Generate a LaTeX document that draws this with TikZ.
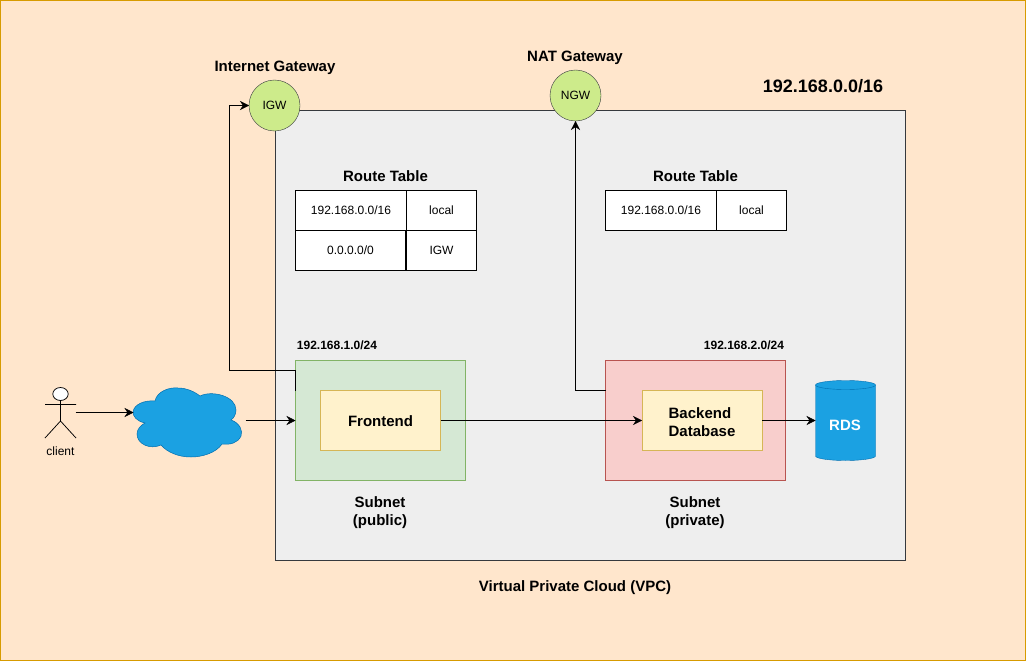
\documentclass[tikz,border=0pt]{standalone}
\usepackage{fontspec}
\setmainfont{Liberation Sans}
\usetikzlibrary{arrows.meta,shapes.geometric}
\definecolor{bgc}{HTML}{FFE6CC}
\definecolor{bgl}{HTML}{D79B00}
\definecolor{vpc}{HTML}{EEEEEE}
\definecolor{vpcl}{HTML}{36393D}
\definecolor{gw}{HTML}{CDEB8B}
\definecolor{pubf}{HTML}{D5E8D4}
\definecolor{publ}{HTML}{82B366}
\definecolor{prif}{HTML}{F8CECC}
\definecolor{pril}{HTML}{B85450}
\definecolor{appf}{HTML}{FFF2CC}
\definecolor{appl}{HTML}{D6B656}
\definecolor{blue}{HTML}{1BA1E2}
\definecolor{bluel}{HTML}{006EAF}
\newcommand{\fs}[1]{\fontsize{#1}{#1}\selectfont}
\tikzset{
  x=1pt,y=-1pt,
  line width=0.75pt,
  box/.style={draw,rectangle,anchor=north west,inner sep=0pt,outer sep=0pt,align=center},
  cell/.style={box,draw=black,fill=white,font=\fs{12}},
  gwnode/.style={draw=vpcl,fill=gw,circle,minimum size=51pt,inner sep=0pt,outer sep=0pt,font=\fs{12}},
  title/.style={inner sep=0pt,align=center,font=\bfseries\fs{15},text height=10.5pt,text depth=3pt},
  small/.style={inner sep=0pt,font=\bfseries\fs{12}},
  conn/.style={draw=black,-{Stealth[length=9pt,width=9pt,inset=3pt]}},
  actor/.style={draw=black,line width=0.75pt},
}
\begin{document}
\begin{tikzpicture}
\useasboundingbox (0,0) rectangle (1026,661);
\node[box,draw=bgl,fill=bgc,minimum width=1025pt,minimum height=660pt] (bg) at (0.5,0.5) {};
\node[box,draw=vpcl,fill=vpc,minimum width=630pt,minimum height=450pt] (vpc) at (275.5,110.5) {};
\node[box,draw=publ,fill=pubf,minimum width=170pt,minimum height=120pt] (pub) at (295.5,360.5) {};
\node[box,draw=pril,fill=prif,minimum width=180pt,minimum height=120pt] (pri) at (605.5,360.5) {};
\node[box,draw=appl,fill=appf,minimum width=120pt,minimum height=60pt,font=\bfseries\fs{15},text height=12.7pt,text depth=1pt] (fe) at (320.5,390.5) {Frontend};
\node[box,draw=appl,fill=appf,minimum width=120pt,minimum height=60pt,font=\bfseries\fs{15},align=left,text depth=1pt] (be) at (642,390.5) {\rule{0pt}{14pt}Backend\\[3pt]Database};
\node[gwnode] (igw) at (274.5,105.5) {IGW};
\node[gwnode] (ngw) at (575.5,95.5) {NGW};
\node[title] (tigw) at (275,68) {Internet Gateway};
\node[title] (tngw) at (575,58) {NAT Gateway};
\node[inner sep=0pt,font=\bfseries\fs{18}] (cidr) at (823,86) {192.168.0.0/16};
\node[title] (rt1) at (385.5,178) {Route Table};
\node[title] (rt2) at (695.5,178) {Route Table};
\node[cell,minimum width=111pt,minimum height=40pt] (a1) at (295.5,190.5) {192.168.0.0/16};
\node[cell,minimum width=70pt,minimum height=40pt] (a2) at (406.5,190.5) {local};
\node[cell,minimum width=110pt,minimum height=40pt] (a3) at (295.5,230.5) {0.0.0.0/0};
\node[cell,minimum width=70pt,minimum height=40pt] (a4) at (406.5,230.5) {IGW};
\node[cell,minimum width=111pt,minimum height=40pt] (b1) at (605.5,190.5) {192.168.0.0/16};
\node[cell,minimum width=70pt,minimum height=40pt] (b2) at (716.5,190.5) {local};
\node[small] (ip1) at (337,345) {192.168.1.0/24};
\node[small] (ip2) at (744,345) {192.168.2.0/24};
\node[inner sep=0pt,align=center,font=\bfseries\fs{15}] (s1) at (380,512.5) {Subnet\\[3pt](public)};
\node[inner sep=0pt,align=center,font=\bfseries\fs{15}] (s2) at (695,512.5) {Subnet\\[3pt](private)};
\node[title] (vpct) at (575,588) {Virtual Private Cloud (VPC)};
% database
\draw[bluel,fill=blue] (815.5,385) -- (815.5,456) arc[x radius=30,y radius=4.5,start angle=180,end angle=0] -- (875.5,385);
\draw[bluel,fill=blue] (845.5,385) ellipse[x radius=30,y radius=4.5];
\node[inner sep=0pt,text=white,font=\bfseries\fs{15}] (rds) at (845,425) {RDS};
\coordinate (rdsw) at (815.5,420.5);
% cloud
\draw[bluel,fill=blue,line width=0.5pt] (155,401)
  .. controls (157,391) and (170,387) .. (178,388)
  .. controls (187,388) and (195,392) .. (200,396)
  .. controls (212,390) and (236,396) .. (236,410)
  .. controls (236,414) and (234,418) .. (231,420)
  .. controls (240,423) and (243,431) .. (241,436)
  .. controls (238,443) and (230,445) .. (222,444)
  .. controls (216,453) and (202,457) .. (191,457)
  .. controls (178,457) and (167,452) .. (161,445)
  .. controls (150,450) and (137,444) .. (137,434)
  .. controls (137,429) and (141,425) .. (145,423)
  .. controls (136,421) and (133,416) .. (133,412)
  .. controls (134,404) and (145,400) .. (155,401) -- cycle;
% actor
\coordinate (head) at (60.5,394);
\draw[actor,fill=white] (head) ellipse[x radius=7.7,y radius=6.5];
\coordinate (hip) at (60.5,421);
\draw[actor] (60.5,400.5) -- (hip) (45,404.5) -- (76,404.5) (45,438) -- (hip) -- (76,438);
\node[inner sep=0pt,font=\fs{12}] (client) at (60.5,451) {client};
% connectors
\coordinate (c1s) at (75.5,412.5);
\coordinate (c1e) at (133.5,412.5);
\coordinate (c2s) at (245.5,420.5);
\coordinate (pubw) at (295.5,420.5);
\coordinate (pubo) at (295.5,390.5);
\coordinate (prio) at (605.5,390.5);
\draw[conn] (c1s) -- (c1e);
\draw[conn] (c2s) -- (pubw);
\draw[conn] (pubo) -- (295.5,370.5) -- (229.5,370.5) -- (229.5,105.5) -- (igw.west);
\draw[conn] (prio) -- (575.5,390.5) -- (ngw.south);
\draw[conn] (fe.east) -- (be.west);
\draw[conn] (be.east) -- (rdsw);
\end{tikzpicture}
\end{document}
